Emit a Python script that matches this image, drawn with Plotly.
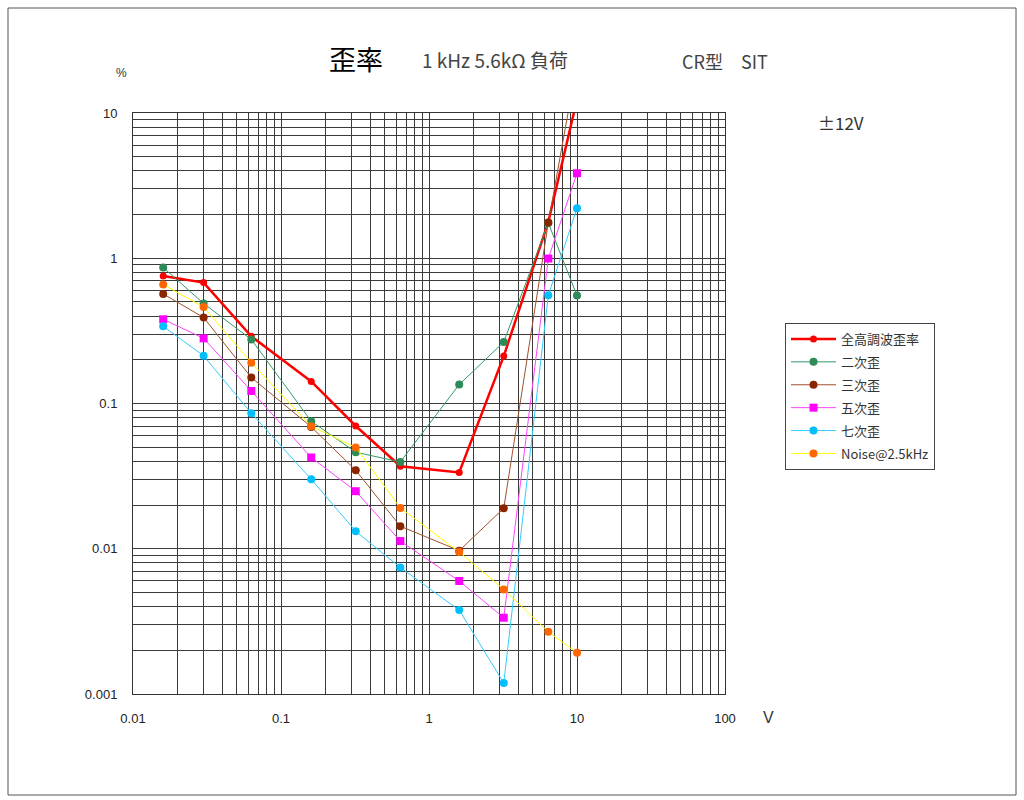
import plotly.graph_objects as go

# output voltage (V)
volts = [0.016, 0.03, 0.063, 0.16, 0.32, 0.64, 1.6, 3.2, 6.4, 10]

# distortion (%)
thd = [0.755, 0.68, 0.29, 0.142, 0.07, 0.037, 0.0335, 0.212, 1.78, 12.4]
h2 = [0.863, 0.488, 0.276, 0.0755, 0.0462, 0.0396, 0.135, 0.265, 1.75, 0.553]
h3 = [0.568, 0.391, 0.151, 0.069, 0.0347, 0.0143, 0.0097, 0.019, 1.76, 22]
h5 = [0.38, 0.281, 0.122, 0.0425, 0.0249, 0.0113, 0.006, 0.00335, 0.995, 3.85]
h7 = [0.34, 0.213, 0.0858, 0.0301, 0.0132, 0.00743, 0.00378, 0.00119, 0.556, 2.21]
noise = [0.659, 0.462, 0.191, 0.0698, 0.0498, 0.0191, 0.0095, 0.00525, 0.00268, 0.00192]

names = ["全高調波歪率", "二次歪", "三次歪", "五次歪", "七次歪", "Noise@2.5kHz"]

x_ticks = [0.01, 0.1, 1, 10, 100]
x_labels = ["0.01", "0.1", "1", "10", "100"]
y_ticks = [0.001, 0.01, 0.1, 1, 10]
y_labels = ["0.001", "0.01", "0.1", "1", "10"]

styles = [
    # line colour, marker colour, line width, symbol, marker size
    ("#FF0000", "#FF0000", 2.5, "circle", 7),
    ("#339966", "#2E8B57", 1, "circle", 8),
    ("#A0522D", "#8B2500", 1, "circle", 8),
    ("#FF44FF", "#FF00FF", 1, "square", 8),
    ("#33CCFF", "#00BFFF", 1, "circle", 8),
    ("#FFFF00", "#FF6600", 1, "circle", 8),
]

fig = go.Figure()
for i, (name, ys) in enumerate(zip(names, [thd, h2, h3, h5, h7, noise])):
    lc, mc, lw, sym, ms = styles[i]
    fig.add_trace(go.Scatter(
        x=volts, y=ys, name=name, mode="lines+markers",
        line=dict(color=lc, width=lw),
        marker=dict(color=mc, size=ms, symbol=sym),
        legendgroup=str(i),
    ))

grid = "#3a3a3a"
tick_font = dict(family="Liberation Sans", size=13, color="#222")
fig.update_xaxes(
    type="log", range=[-2, 2], tickvals=x_ticks, ticktext=x_labels,
    showgrid=True, gridcolor=grid, gridwidth=1,
    minor=dict(dtick="D1", showgrid=True, gridcolor=grid, gridwidth=1),
    showline=True, linecolor="#333", mirror=True, ticks="",
    ticklabelstandoff=12, tickfont=tick_font, zeroline=False,
)
fig.update_yaxes(
    type="log", range=[-3, 1], tickvals=y_ticks, ticktext=y_labels,
    showgrid=True, gridcolor=grid, gridwidth=1,
    minor=dict(dtick="D1", showgrid=True, gridcolor=grid, gridwidth=1),
    showline=True, linecolor="#333", mirror=True, ticks="",
    ticklabelstandoff=12, tickfont=tick_font, zeroline=False,
)

annos = [
    dict(text="歪率", x=356, y=58, size=27, color="#000", family="Noto Sans CJK JP"),
    dict(text="1 kHz 5.6kΩ 負荷", x=495, y=60, size=19, color="#444", family="Noto Sans CJK JP"),
    dict(text="CR型　SIT", x=725, y=61, size=18, color="#444", family="Noto Sans CJK JP"),
    dict(text="%", x=121, y=73, size=12, color="#333", family="Liberation Sans"),
    dict(text="±12V", x=841, y=122, size=17, color="#333", family="Noto Sans CJK JP"),
    dict(text="V", x=768, y=717, size=16, color="#333", family="Liberation Sans"),
]
L, R, T, B = 133, 725, 113, 694
for a in annos:
    fig.add_annotation(
        text=a["text"], xref="paper", yref="paper",
        x=(a["x"] - L) / (R - L), y=(B - a["y"]) / (B - T),
        showarrow=False, xanchor="center", yanchor="middle",
        font=dict(size=a["size"], color=a["color"], family=a["family"]),
    )

# outer frame
fig.add_shape(
    type="rect", xref="paper", yref="paper",
    x0=(8 - L) / (R - L), x1=(1016 - L) / (R - L),
    y0=(B - 795) / (B - T), y1=(B - 8) / (B - T),
    line=dict(color="#555", width=1), layer="below",
)

fig.update_layout(
    width=1024, height=800,
    margin=dict(l=L, r=1024 - R, t=T, b=800 - B),
    plot_bgcolor="white", paper_bgcolor="white",
    legend=dict(
        x=(785 - L) / (R - L), y=(B - 323) / (B - T),
        xanchor="left", yanchor="top",
        bgcolor="white", bordercolor="#444", borderwidth=1,
        font=dict(family="Noto Sans CJK JP", size=13, color="#333"),
        tracegroupgap=3, itemwidth=45,
    ),
    showlegend=True,
)

fig.write_html(
    "out.html",
    config={"displayModeBar": False},
    post_script="document.body.style.margin='0';",
)
